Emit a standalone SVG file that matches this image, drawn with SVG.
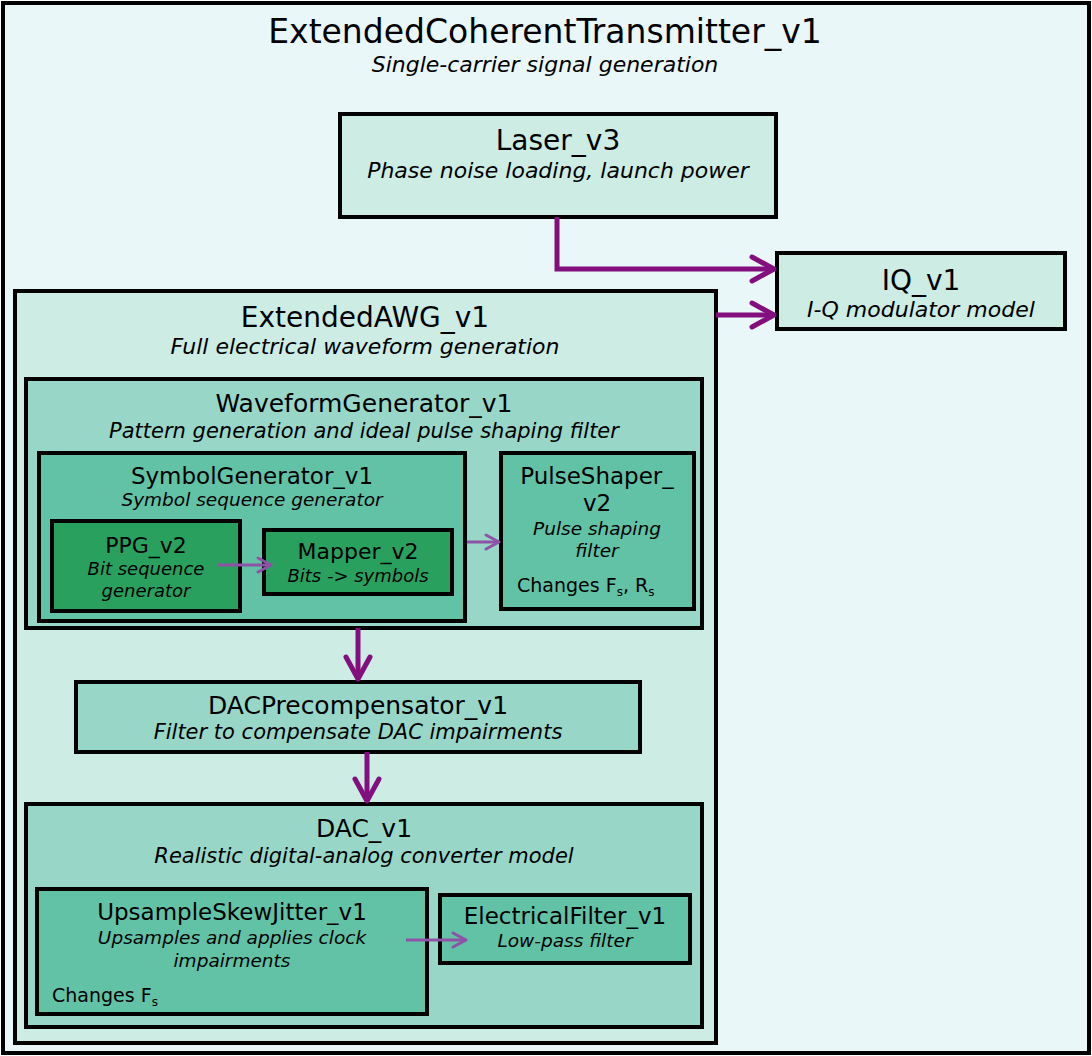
<svg xmlns="http://www.w3.org/2000/svg" width="1092" height="1056" viewBox="0 0 1092 1056">
<style>
.box{stroke:#000;stroke-width:4}
.l0{fill:#eaf7f9}
.l1{fill:#cdece4}
.l2{fill:#98d7c7}
.l3{fill:#62c2a5}
.l4{fill:#2aa05f}
text{font-family:"DejaVu Sans","Verdana",sans-serif;fill:#000;text-anchor:middle}
.it{font-style:italic}
.t0{font-size:33px}
.t1{font-size:28px}
.s1{font-size:22px}
.t2{font-size:25px}
.s2{font-size:21px}
.t3{font-size:23px}
.s3{font-size:18.5px}
.t4{font-size:22px}
.s4{font-size:18px}
.ch{font-size:19px;text-anchor:start}
.thick{fill:none;stroke:#820f7d;stroke-width:5}
.thin{fill:none;stroke:#8e52a6;stroke-width:3}
</style>
<defs>
<marker id="ah" markerUnits="userSpaceOnUse" markerWidth="32" markerHeight="32" viewBox="0 0 32 32" refX="27" refY="16" orient="auto">
<path d="M5,4 L27,16 L5,28" fill="none" stroke="#820f7d" stroke-width="5" stroke-linecap="round" stroke-linejoin="round"/>
</marker>
<marker id="ahs" markerUnits="userSpaceOnUse" markerWidth="20" markerHeight="20" viewBox="0 0 20 20" refX="16" refY="10" orient="auto">
<path d="M3,3 L16,10 L3,17" fill="none" stroke="#8e52a6" stroke-width="3" stroke-linecap="round" stroke-linejoin="round"/>
</marker>
</defs>

<g id="ExtendedCoherentTransmitter_v1">
<rect class="box l0" x="3" y="3" width="1086" height="1050"/>
<text class="t0" x="545" y="43">ExtendedCoherentTransmitter_v1</text>
<text class="s1 it" x="545" y="72">Single-carrier signal generation</text>
</g>

<g id="Laser_v3">
<rect class="box l1" x="340" y="114" width="436" height="103"/>
<text class="t1" x="558" y="150">Laser_v3</text>
<text class="s1 it" x="558" y="178">Phase noise loading, launch power</text>
</g>

<g id="IQ_v1">
<rect class="box l1" x="777" y="253" width="288" height="76"/>
<text class="t1" x="921" y="290">IQ_v1</text>
<text class="s1 it" x="921" y="317">I-Q modulator model</text>
</g>

<g id="ExtendedAWG_v1">
<rect class="box l1" x="15" y="291" width="701" height="752"/>
<text class="t1" x="365" y="327">ExtendedAWG_v1</text>
<text class="s1 it" x="365" y="354">Full electrical waveform generation</text>
</g>

<g id="WaveformGenerator_v1">
<rect class="box l2" x="26" y="379" width="676" height="249"/>
<text class="t2" x="364" y="412">WaveformGenerator_v1</text>
<text class="s2 it" x="364" y="438">Pattern generation and ideal pulse shaping filter</text>
</g>

<g id="SymbolGenerator_v1">
<rect class="box l3" x="39" y="453" width="426" height="168"/>
<text class="t3" x="252" y="484">SymbolGenerator_v1</text>
<text class="s3 it" x="252" y="506">Symbol sequence generator</text>
</g>

<g id="PPG_v2">
<rect class="box l4" x="52" y="521" width="188" height="90"/>
<text class="t4" x="146" y="553">PPG_v2</text>
<text class="s4 it" x="146" y="575">Bit sequence</text>
<text class="s4 it" x="146" y="597">generator</text>
</g>

<g id="Mapper_v2">
<rect class="box l4" x="264" y="530" width="188" height="64"/>
<text class="t4" x="358" y="559">Mapper_v2</text>
<text class="s4 it" x="358" y="582">Bits -&gt; symbols</text>
</g>

<g id="PulseShaper_v2">
<rect class="box l3" x="501" y="453" width="193" height="156"/>
<text class="t3" x="597" y="484">PulseShaper_</text>
<text class="t3" x="597" y="511">v2</text>
<text class="s3 it" x="597" y="535">Pulse shaping</text>
<text class="s3 it" x="597" y="557">filter</text>
<text class="ch" x="517" y="592">Changes F<tspan font-size="12" dy="4">s</tspan><tspan dy="-4">, R</tspan><tspan font-size="12" dy="4">s</tspan></text>
</g>

<g id="DACPrecompensator_v1">
<rect class="box l2" x="76" y="682" width="564" height="70"/>
<text class="t2" x="358" y="714">DACPrecompensator_v1</text>
<text class="s2 it" x="358" y="739">Filter to compensate DAC impairments</text>
</g>

<g id="DAC_v1">
<rect class="box l2" x="26" y="804" width="676" height="223"/>
<text class="t2" x="364" y="837">DAC_v1</text>
<text class="s2 it" x="364" y="863">Realistic digital-analog converter model</text>
</g>

<g id="UpsampleSkewJitter_v1">
<rect class="box l3" x="37" y="889" width="390" height="125"/>
<text class="t3" x="232" y="920">UpsampleSkewJitter_v1</text>
<text class="s3 it" x="232" y="944">Upsamples and applies clock</text>
<text class="s3 it" x="232" y="967">impairments</text>
<text class="ch" x="52" y="1002">Changes F<tspan font-size="12" dy="4">s</tspan></text>
</g>

<g id="ElectricalFilter_v1">
<rect class="box l3" x="440" y="895" width="250" height="68"/>
<text class="t3" x="565" y="924">ElectricalFilter_v1</text>
<text class="s3 it" x="565" y="947">Low-pass filter</text>
</g>

<g id="connectors">
<path class="thick" d="M557,217 V269 H774" marker-end="url(#ah)"/>
<path class="thick" d="M716,315 H774" marker-end="url(#ah)"/>
<path class="thick" d="M358,628 V679" marker-end="url(#ah)"/>
<path class="thick" d="M367,752 V801" marker-end="url(#ah)"/>
<path class="thin" d="M218,565 H271" marker-end="url(#ahs)"/>
<path class="thin" d="M467,542 H499" marker-end="url(#ahs)"/>
<path class="thin" d="M406,940 H466" marker-end="url(#ahs)"/>
</g>
</svg>
